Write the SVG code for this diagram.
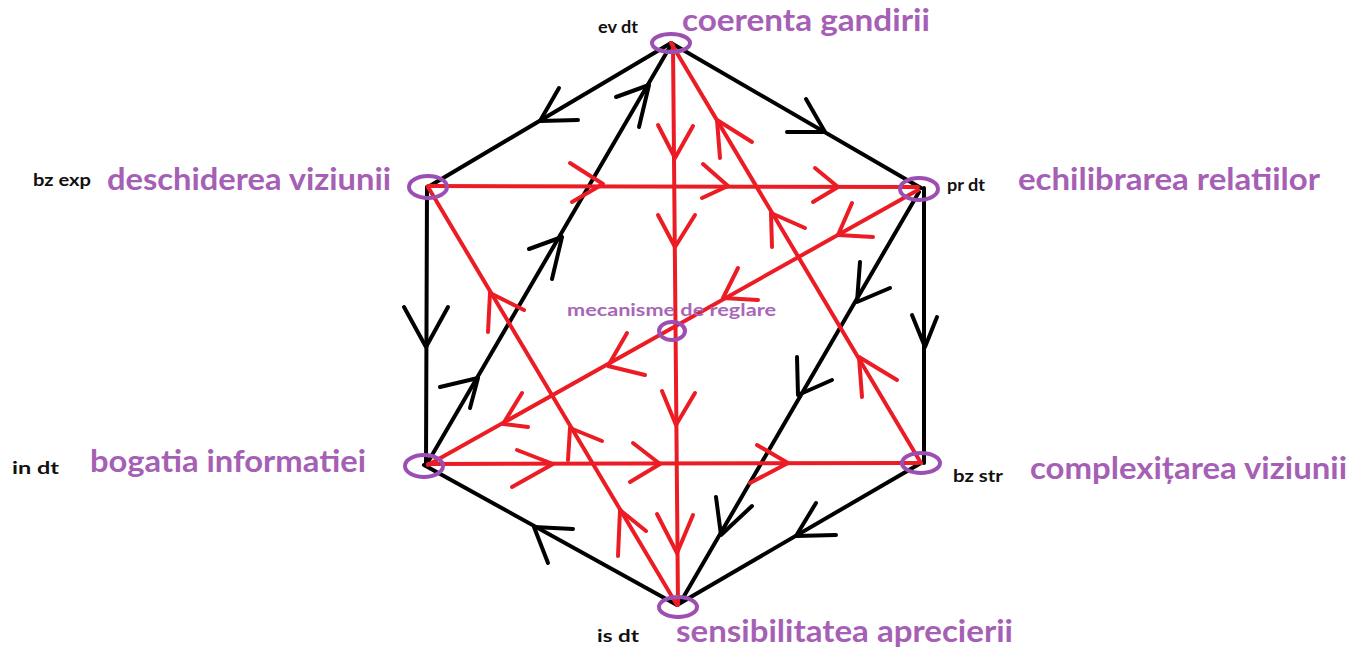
<svg xmlns="http://www.w3.org/2000/svg" width="1365" height="651" viewBox="0 0 1365 651">
<style>
.bk{stroke:#000;stroke-width:4;fill:none;stroke-linecap:round;stroke-linejoin:round}
.rd{stroke:#ec1c24;stroke-width:4;fill:none;stroke-linecap:round;stroke-linejoin:round}
.ring{stroke:#9c4fb3;stroke-width:4;fill:none}
.lbl{font-family:Lato,"Liberation Sans",sans-serif;font-weight:700;fill:#a560b5;font-size:31px}
.tag{font-family:Lato,"Liberation Sans",sans-serif;font-weight:700;fill:#111;font-size:17px}
.mid{font-family:Lato,"Liberation Sans",sans-serif;font-weight:700;fill:#a866b8;font-size:17px}
</style>
<rect width="1365" height="651" fill="#fff"/>
<g id="connectors">
  <path class="bk" d="M671,43 L428,187"/>
  <path class="bk" d="M671,43 L921,188"/>
  <path class="bk" d="M427,187 L426,465"/>
  <path class="bk" d="M677,605 L424,465"/>
  <path class="bk" d="M921,463 L677,605"/>
  <path class="bk" d="M924,188 L924,463"/>
  <path class="bk" d="M428,462 L671,45"/>
  <path class="bk" d="M919,192 L680,603"/>
  <path class="bk" d="M578,120 L540,121 L559,88"/>
  <path class="bk" d="M806,99 L825,132 L787,132"/>
  <path class="bk" d="M404,307 L426,347 L448,307"/>
  <path class="bk" d="M440,387 L478,378 L470,408"/>
  <path class="bk" d="M529,249 L562,237 L552,279"/>
  <path class="bk" d="M616,97 L649,85 L639,127"/>
  <path class="bk" d="M573,529 L534,527 L548,563"/>
  <path class="bk" d="M836,535 L796,536 L816,503"/>
  <path class="bk" d="M912,315 L925,347 L937,317"/>
  <path class="bk" d="M860,262 L857,302 L890,288"/>
  <path class="bk" d="M797,357 L798,395 L832,380"/>
  <path class="bk" d="M716,497 L721,535 L752,506"/>
  <path class="rd" d="M428,186 L918,187"/>
  <path class="rd" d="M673,45 L678,605"/>
  <path class="rd" d="M428,187 L677,605"/>
  <path class="rd" d="M921,463 L671,43"/>
  <path class="rd" d="M918,190 L428,465"/>
  <path class="rd" d="M428,464 L918,463"/>
  <path class="rd" d="M570,163 L603,184 L572,202"/>
  <path class="rd" d="M703,164 L728,186 L702,198"/>
  <path class="rd" d="M815,168 L838,187 L813,202"/>
  <path class="rd" d="M658,125 L675,158 L693,126"/>
  <path class="rd" d="M658,215 L675,247 L695,215"/>
  <path class="rd" d="M662,391 L676,425 L695,393"/>
  <path class="rd" d="M657,514 L677,553 L693,515"/>
  <path class="rd" d="M524,310 L490,293 L488,332"/>
  <path class="rd" d="M602,441 L570,428 L568,460"/>
  <path class="rd" d="M646,531 L620,510 L618,556"/>
  <path class="rd" d="M752,142 L717,120 L720,158"/>
  <path class="rd" d="M805,228 L771,213 L772,247"/>
  <path class="rd" d="M897,380 L859,357 L862,397"/>
  <path class="rd" d="M873,237 L838,235 L852,203"/>
  <path class="rd" d="M758,300 L723,298 L738,268"/>
  <path class="rd" d="M645,375 L608,366 L627,333"/>
  <path class="rd" d="M528,427 L503,424 L522,393"/>
  <path class="rd" d="M517,450 L553,464 L512,487"/>
  <path class="rd" d="M633,443 L660,464 L630,482"/>
  <path class="rd" d="M757,445 L788,463 L750,483"/>
</g>
<g id="node-ev">
  <ellipse class="ring" cx="671" cy="43" rx="19" ry="9"/>
  <text class="tag" x="598" y="33" textLength="40" lengthAdjust="spacingAndGlyphs">ev dt</text>
  <text class="lbl" x="682" y="31" textLength="248" lengthAdjust="spacingAndGlyphs">coerenta gandirii</text>
</g>
<g id="node-bzexp">
  <ellipse class="ring" cx="428" cy="187" rx="19" ry="11"/>
  <text class="tag" x="33" y="186" textLength="58" lengthAdjust="spacingAndGlyphs">bz exp</text>
  <text class="lbl" x="107" y="190" textLength="284" lengthAdjust="spacingAndGlyphs">deschiderea viziunii</text>
</g>
<g id="node-prdt">
  <ellipse class="ring" cx="919" cy="189" rx="19" ry="11"/>
  <text class="tag" x="947" y="191" textLength="38" lengthAdjust="spacingAndGlyphs">pr dt</text>
  <text class="lbl" x="1018" y="190" textLength="302" lengthAdjust="spacingAndGlyphs">echilibrarea relatiilor</text>
</g>
<g id="node-mec">
  <ellipse class="ring" cx="672" cy="331" rx="13" ry="9"/>
  <text class="mid" x="567" y="316" textLength="209" lengthAdjust="spacingAndGlyphs">mecanisme de reglare</text>
</g>
<g id="node-indt">
  <ellipse class="ring" cx="424" cy="466" rx="19" ry="11"/>
  <text class="tag" x="12" y="474" font-size="19" textLength="47" lengthAdjust="spacingAndGlyphs">in dt</text>
  <text class="lbl" x="90" y="472" textLength="276" lengthAdjust="spacingAndGlyphs">bogatia informatiei</text>
</g>
<g id="node-bzstr">
  <ellipse class="ring" cx="921" cy="463" rx="19" ry="10"/>
  <text class="tag" x="953" y="482" textLength="50" lengthAdjust="spacingAndGlyphs">bz str</text>
  <text class="lbl" x="1030" y="479" textLength="317" lengthAdjust="spacingAndGlyphs">complexițarea viziunii</text>
</g>
<g id="node-isdt">
  <ellipse class="ring" cx="678" cy="607" rx="19" ry="10"/>
  <text class="tag" x="597" y="642" font-size="18" textLength="42" lengthAdjust="spacingAndGlyphs">is dt</text>
  <text class="lbl" x="676" y="642" textLength="337" lengthAdjust="spacingAndGlyphs">sensibilitatea aprecierii</text>
</g>
</svg>
